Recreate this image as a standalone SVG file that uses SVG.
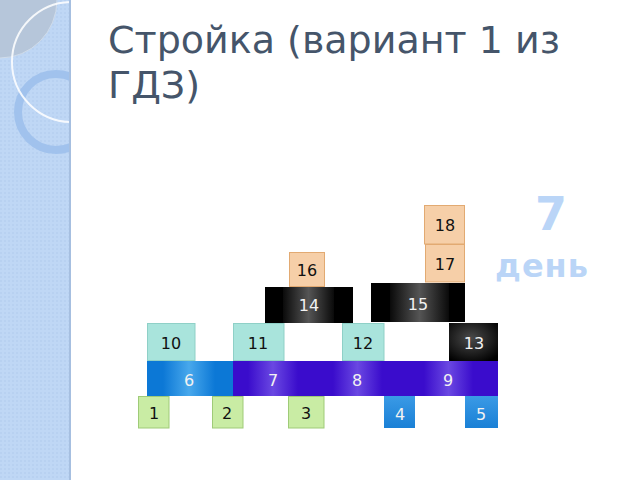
<svg xmlns="http://www.w3.org/2000/svg" width="640" height="480" viewBox="0 0 640 480">
<style>
.t{font-family:"DejaVu Sans","Noto Sans",sans-serif;font-size:16px;text-anchor:middle}
.dk{fill:#111}
.lt{fill:#f2f2f2}
.grn{fill:#c9eca4;stroke:#9fcb78;stroke-width:1}
.cy{fill:#a9e4dc;stroke:#8fd0c7;stroke-width:1}
.pch{fill:#f6cfa8;stroke:#e2aa72;stroke-width:1}
.title{font-family:"DejaVu Sans","Noto Sans",sans-serif;font-size:38px;fill:#45556a}
.day{font-family:"DejaVu Sans","Noto Sans",sans-serif;font-weight:bold;fill:#bad5f7;text-anchor:middle}
</style>
<defs>
<clipPath id="strip"><rect x="0" y="0" width="70" height="480"/></clipPath>
<linearGradient id="blk" x1="0" x2="1" y1="0" y2="0">
<stop offset="0" stop-color="#0a0a0a"/><stop offset="0.5" stop-color="#555"/><stop offset="1" stop-color="#0a0a0a"/>
</linearGradient>
<radialGradient id="blk13" cx="0.45" cy="0.4" r="0.7">
<stop offset="0" stop-color="#4a4a4a"/><stop offset="1" stop-color="#000"/>
</radialGradient>
<linearGradient id="pur" x1="0" x2="1" y1="0" y2="0">
<stop offset="0" stop-color="#3a0ccc"/><stop offset="0.5" stop-color="#6a48e2"/><stop offset="1" stop-color="#3a0ccc"/>
</linearGradient>
<linearGradient id="blu" x1="0" x2="1" y1="0" y2="0">
<stop offset="0" stop-color="#0c78d6"/><stop offset="0.5" stop-color="#48a8ec"/><stop offset="1" stop-color="#0c78d6"/>
</linearGradient>
<linearGradient id="blu2" x1="0" x2="0" y1="0" y2="1">
<stop offset="0" stop-color="#3a9ae6"/><stop offset="1" stop-color="#1a80d6"/>
</linearGradient>
<pattern id="dots" width="4" height="4" patternUnits="userSpaceOnUse">
<rect width="4" height="4" fill="#bfd7f5"/><rect width="2" height="2" fill="#b8d1f1"/>
</pattern>
</defs>
<rect width="640" height="480" fill="#ffffff"/>
<g id="strip-deco">
<rect x="0" y="0" width="70" height="480" fill="url(#dots)"/>
<g clip-path="url(#strip)">
<ellipse cx="0" cy="0" rx="57" ry="58" fill="#b6c6da" stroke="#d0dcea" stroke-width="1"/>
<circle cx="56" cy="112" r="38" fill="none" stroke="#9dc0ec" stroke-width="8" opacity="0.9"/>
<circle cx="72" cy="62" r="60" fill="none" stroke="#ffffff" stroke-width="2" opacity="0.85"/>
</g>
<rect x="69" y="0" width="2" height="480" fill="#a6bfe0"/>
</g>
<g id="title">
<text class="title" x="108" y="53">Стройка (вариант 1 из</text>
<text class="title" x="108" y="98">ГДЗ)</text>
</g>
<g id="day-label">
<text class="day" x="551" y="230" font-size="46">7</text>
<text class="day" x="542" y="277" font-size="32" letter-spacing="1">день</text>
</g>
<g id="connectors"></g>
<g id="n18"><rect class="pch" x="424.5" y="205.5" width="40" height="38.5"/><text class="t dk" x="445" y="231">18</text></g>
<g id="n17"><rect class="pch" x="425.5" y="244.5" width="39" height="37.5"/><text class="t dk" x="445" y="270">17</text></g>
<g id="n16"><rect class="pch" x="289.5" y="252.5" width="35" height="34"/><text class="t dk" x="307" y="276">16</text></g>
<g id="n14"><rect x="265" y="287" width="88" height="36" fill="#000"/><rect x="283" y="287" width="51" height="36" fill="url(#blk)"/><text class="t lt" x="309" y="311">14</text></g>
<g id="n15"><rect x="371" y="283" width="94" height="39" fill="#000"/><rect x="390" y="283" width="59" height="39" fill="url(#blk)"/><text class="t lt" x="418" y="310">15</text></g>
<g id="n10"><rect class="cy" x="147.5" y="323.5" width="47.5" height="37"/><text class="t dk" x="171" y="349">10</text></g>
<g id="n11"><rect class="cy" x="233.5" y="323.5" width="50.5" height="37"/><text class="t dk" x="258" y="349">11</text></g>
<g id="n12"><rect class="cy" x="342.5" y="323.5" width="41.5" height="37"/><text class="t dk" x="363" y="349">12</text></g>
<g id="n13"><rect x="449" y="323" width="49" height="38" fill="url(#blk13)"/><text class="t lt" x="474" y="349">13</text></g>
<g id="n6"><rect x="147" y="361" width="86" height="35" fill="#0c78d6"/><rect x="163" y="361" width="52" height="35" fill="url(#blu)"/><text class="t lt" x="189" y="386">6</text></g>
<g id="n7"><rect x="233" y="361" width="82" height="35" fill="#3a0ccc"/><rect x="248" y="361" width="50" height="35" fill="url(#pur)"/><text class="t lt" x="273" y="386">7</text></g>
<g id="n8"><rect x="315" y="361" width="83" height="35" fill="#3a0ccc"/><rect x="333" y="361" width="49" height="35" fill="url(#pur)"/><text class="t lt" x="357" y="386">8</text></g>
<g id="n9"><rect x="398" y="361" width="100" height="35" fill="#3a0ccc"/><rect x="424" y="361" width="49" height="35" fill="url(#pur)"/><text class="t lt" x="448" y="386">9</text></g>
<g id="n1"><rect class="grn" x="138.5" y="396.5" width="30.5" height="31.5"/><text class="t dk" x="154" y="419">1</text></g>
<g id="n2"><rect class="grn" x="212.5" y="396.5" width="30.5" height="31.5"/><text class="t dk" x="227" y="419">2</text></g>
<g id="n3"><rect class="grn" x="288.5" y="396.5" width="35.5" height="31.5"/><text class="t dk" x="306" y="419">3</text></g>
<g id="n4"><rect x="384" y="396" width="31" height="32" fill="url(#blu2)"/><text class="t lt" x="400" y="420">4</text></g>
<g id="n5"><rect x="465" y="396" width="33" height="32" fill="url(#blu2)"/><text class="t lt" x="481" y="420">5</text></g>
</svg>
